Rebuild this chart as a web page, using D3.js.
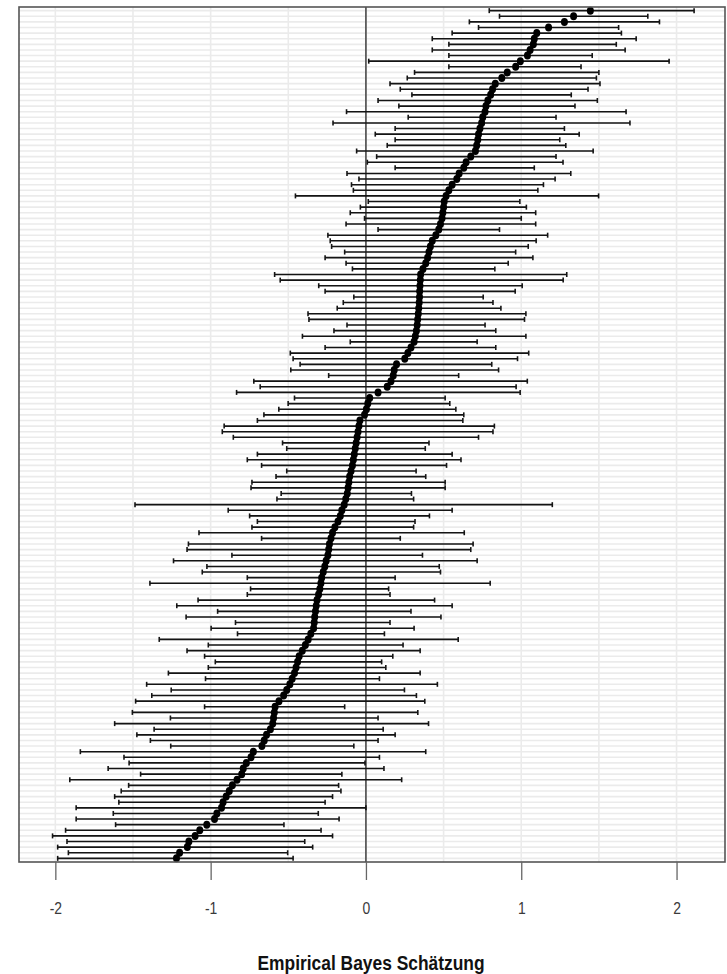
<!DOCTYPE html>
<html>
<head>
<meta charset="utf-8">
<script src="https://cdn.jsdelivr.net/npm/d3@7"></script>
<style>
  html, body { margin: 0; padding: 0; background: #ffffff; }
  svg { display: block; }
  .lbl { font-family: "Liberation Sans Narrow", "Arial Narrow", "Liberation Sans", Arial, sans-serif; font-stretch: condensed; }
</style>
</head>
<body>
<svg id="chart" width="727" height="974"></svg>
<script>
// Empirical Bayes estimates per unit, listed from top row to bottom row
const estimate = [
  1.445, 1.337, 1.278, 1.176, 1.100, 1.084, 1.078, 1.057, 1.040, 0.994,
  0.964, 0.910, 0.875, 0.833, 0.815, 0.803, 0.785, 0.773, 0.767, 0.752,
  0.745, 0.734, 0.725, 0.720, 0.713, 0.705, 0.675, 0.645, 0.630, 0.600,
  0.585, 0.555, 0.534, 0.516, 0.504, 0.500, 0.495, 0.490, 0.480, 0.469,
  0.450, 0.427, 0.415, 0.406, 0.397, 0.385, 0.367, 0.352, 0.350, 0.348,
  0.346, 0.345, 0.343, 0.340, 0.337, 0.333, 0.330, 0.325, 0.318, 0.310,
  0.290, 0.270, 0.250, 0.197, 0.182, 0.176, 0.161, 0.137, 0.078, 0.024,
  0.012, 0.003, -0.009, -0.039, -0.045, -0.051, -0.057, -0.063, -0.069, -0.075,
  -0.081, -0.087, -0.096, -0.105, -0.110, -0.115, -0.120, -0.130, -0.140, -0.155,
  -0.165, -0.180, -0.200, -0.215, -0.225, -0.235, -0.240, -0.245, -0.256, -0.265,
  -0.275, -0.285, -0.290, -0.297, -0.305, -0.315, -0.320, -0.325, -0.330, -0.333,
  -0.337, -0.355, -0.372, -0.390, -0.410, -0.430, -0.440, -0.450, -0.460, -0.475,
  -0.490, -0.510, -0.530, -0.560, -0.585, -0.590, -0.595, -0.600, -0.615, -0.640,
  -0.655, -0.670, -0.725, -0.740, -0.770, -0.790, -0.800, -0.830, -0.860, -0.880,
  -0.900, -0.920, -0.930, -0.960, -0.975, -1.025, -1.070, -1.100, -1.140, -1.150,
  -1.200, -1.220
];

// Lower interval bounds, same row order
const lower = [
  0.794, 0.860, 0.666, 0.725, 0.555, 0.427, 0.534, 0.427, 0.534, 0.018,
  0.534, 0.313, 0.266, 0.155, 0.221, 0.296, 0.078, 0.212, -0.125, 0.272,
  -0.212, 0.188, 0.060, 0.188, 0.137, -0.060, 0.069, 0.009, 0.188, -0.122,
  -0.045, -0.093, -0.081, -0.454, 0.015, -0.036, -0.101, -0.009, -0.128, 0.078,
  -0.245, -0.230, -0.221, -0.137, -0.263, -0.128, -0.087, -0.588, -0.552, -0.304,
  -0.263, -0.078, -0.146, -0.185, -0.373, -0.367, -0.122, -0.206, -0.409, -0.101,
  -0.263, -0.487, -0.469, -0.424, -0.484, -0.240, -0.722, -0.681, -0.833, -0.460,
  -0.501, -0.561, -0.657, -0.699, -0.913, -0.925, -0.854, -0.537, -0.510, -0.699,
  -0.764, -0.672, -0.510, -0.579, -0.734, -0.740, -0.546, -0.573, -1.487, -0.887,
  -0.749, -0.699, -0.734, -1.075, -0.672, -1.143, -1.152, -0.863, -1.239, -1.024,
  -1.054, -0.764, -1.391, -0.743, -0.764, -1.081, -1.218, -0.955, -1.158, -0.840,
  -0.997, -0.827, -1.331, -1.015, -1.152, -1.039, -0.970, -1.015, -1.272, -1.033,
  -1.412, -1.254, -1.379, -1.483, -1.039, -1.504, -1.259, -1.618, -1.364, -1.475,
  -1.388, -1.257, -1.839, -1.558, -1.525, -1.660, -1.451, -1.907, -1.528, -1.576,
  -1.618, -1.591, -1.866, -1.627, -1.866, -1.612, -1.934, -2.018, -1.925, -1.985,
  -1.916, -1.985
];

// Upper interval bounds, same row order
const upper = [
  2.113, 1.815, 1.890, 1.627, 1.645, 1.740, 1.612, 1.669, 1.457, 1.952,
  1.385, 1.500, 1.484, 1.507, 1.430, 1.322, 1.490, 1.346, 1.675, 1.224,
  1.700, 1.278, 1.373, 1.248, 1.287, 1.463, 1.224, 1.269, 1.084, 1.319,
  1.218, 1.143, 1.107, 1.498, 0.991, 1.033, 1.093, 1.000, 1.093, 0.860,
  1.170, 1.096, 1.045, 0.964, 1.075, 0.916, 0.830, 1.293, 1.270, 1.006,
  0.961, 0.755, 0.818, 0.869, 1.030, 1.021, 0.767, 0.836, 1.030, 0.716,
  0.836, 1.048, 0.976, 0.810, 0.854, 0.597, 1.039, 0.967, 0.993, 0.510,
  0.540, 0.579, 0.630, 0.624, 0.827, 0.818, 0.725, 0.406, 0.382, 0.555,
  0.612, 0.519, 0.323, 0.385, 0.510, 0.510, 0.293, 0.307, 1.200, 0.555,
  0.409, 0.316, 0.307, 0.633, 0.221, 0.690, 0.675, 0.364, 0.716, 0.472,
  0.480, 0.188, 0.800, 0.146, 0.155, 0.442, 0.555, 0.290, 0.483, 0.155,
  0.310, 0.119, 0.594, 0.239, 0.349, 0.173, 0.101, 0.128, 0.349, 0.087,
  0.460, 0.248, 0.325, 0.379, -0.137, 0.334, 0.078, 0.403, 0.111, 0.188,
  0.078, -0.078, 0.385, 0.087, -0.006, 0.116, -0.155, 0.230, -0.176, -0.161,
  -0.215, -0.263, 0.000, -0.307, -0.173, -0.528, -0.289, -0.215, -0.394, -0.343,
  -0.504, -0.469
];

const xTicks = [-2, -1, 0, 1, 2];
const xTickLabels = ["-2", "-1", "0", "1", "2"];
const xGrid = [-2, -1.5, -1, -0.5, 0, 0.5, 1, 1.5, 2];
const xDomain = [-2.234, 2.312];
const xTitle = "Empirical Bayes Schätzung";

const rows = estimate.map((e, i) => ({ row: i, est: e, lo: lower[i], hi: upper[i] }));

const svg = d3.select("#chart");
const panel = { left: 19, right: 725, top: 7, bottom: 862 };

const x = d3.scaleLinear().domain(xDomain).range([panel.left, panel.right]);
const y = d3.scalePoint()
  .domain(rows.map(d => d.row))
  .range([panel.top, panel.bottom])
  .padding(0.65);

// panel background
svg.append("rect")
  .attr("x", panel.left).attr("y", panel.top)
  .attr("width", panel.right - panel.left).attr("height", panel.bottom - panel.top)
  .attr("fill", "#ffffff");

// horizontal grid: one line per unit
svg.append("g").selectAll("line").data(rows).join("line")
  .attr("x1", panel.left).attr("x2", panel.right)
  .attr("y1", d => y(d.row)).attr("y2", d => y(d.row))
  .attr("stroke", "#ebebeb").attr("stroke-width", 1.6);

// vertical grid
svg.append("g").selectAll("line").data(xGrid).join("line")
  .attr("x1", d => x(d)).attr("x2", d => x(d))
  .attr("y1", panel.top).attr("y2", panel.bottom)
  .attr("stroke", "#ebebeb").attr("stroke-width", 1.6);

// reference line at zero
svg.append("line")
  .attr("x1", x(0)).attr("x2", x(0))
  .attr("y1", panel.top).attr("y2", panel.bottom)
  .attr("stroke", "#000000").attr("stroke-width", 1.1);

// interval bars with end caps
const bars = svg.append("g").attr("stroke", "#141414").attr("stroke-width", 1.6);
bars.selectAll("line.bar").data(rows).join("line").attr("class", "bar")
  .attr("x1", d => x(d.lo)).attr("x2", d => x(d.hi))
  .attr("y1", d => y(d.row)).attr("y2", d => y(d.row));
bars.selectAll("line.capl").data(rows).join("line").attr("class", "capl")
  .attr("x1", d => x(d.lo)).attr("x2", d => x(d.lo))
  .attr("y1", d => y(d.row) - 2.5).attr("y2", d => y(d.row) + 2.5);
bars.selectAll("line.capr").data(rows).join("line").attr("class", "capr")
  .attr("x1", d => x(d.hi)).attr("x2", d => x(d.hi))
  .attr("y1", d => y(d.row) - 2.5).attr("y2", d => y(d.row) + 2.5);

// point estimates
svg.append("g").selectAll("ellipse").data(rows).join("ellipse")
  .attr("cx", d => x(d.est)).attr("cy", d => y(d.row))
  .attr("rx", 3.5).attr("ry", 4).attr("fill", "#000000");

// panel border
svg.append("rect")
  .attr("x", panel.left).attr("y", panel.top)
  .attr("width", panel.right - panel.left).attr("height", panel.bottom - panel.top)
  .attr("fill", "none").attr("stroke", "#555555").attr("stroke-width", 1.6);

// bottom axis
const axis = d3.axisBottom(x).tickValues(xTicks).tickSize(18).tickPadding(22)
  .tickFormat((d, i) => xTickLabels[i]);
const gAxis = svg.append("g").attr("transform", `translate(0,${panel.bottom})`).call(axis);
gAxis.select(".domain").remove();
gAxis.selectAll(".tick line").attr("stroke", "#666666").attr("stroke-width", 1.3);
gAxis.selectAll(".tick text")
  .attr("class", "lbl")
  .attr("fill", "#3a3a3a")
  .attr("transform", "scale(0.82,1)")
  .style("font-size", "17px");

// axis title
svg.append("text")
  .attr("class", "lbl")
  .attr("x", (panel.left + panel.right) / 2 - 1)
  .attr("y", 970)
  .attr("text-anchor", "middle")
  .attr("textLength", 227)
  .attr("lengthAdjust", "spacingAndGlyphs")
  .attr("fill", "#111111")
  .style("font-size", "20px")
  .style("font-weight", "bold")
  .text(xTitle);
</script>
</body>
</html>
